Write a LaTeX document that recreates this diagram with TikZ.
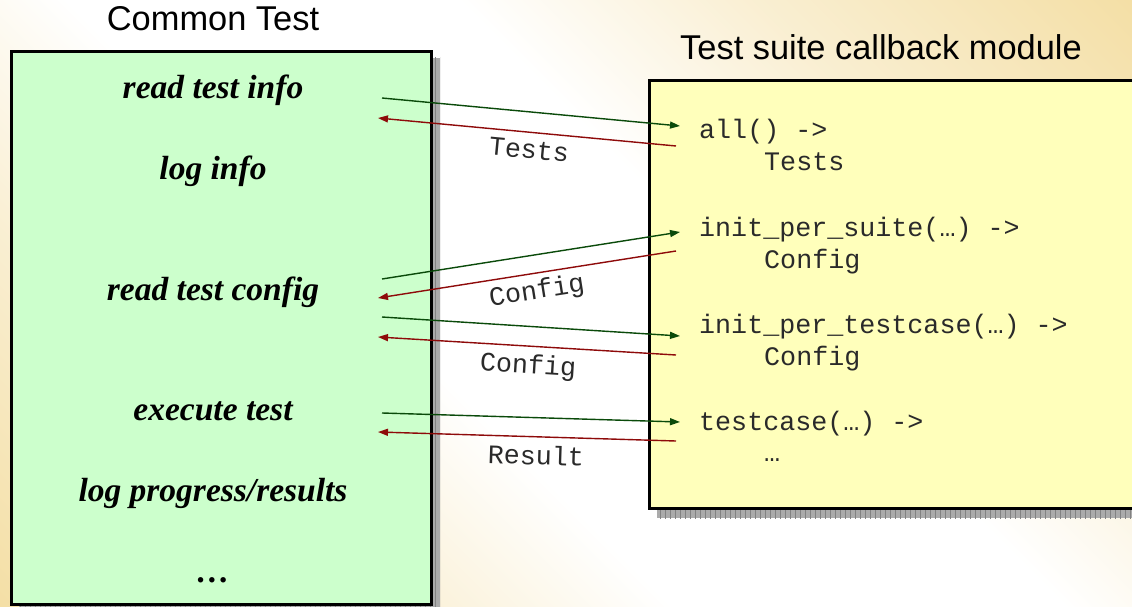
\documentclass[tikz,border=0pt]{standalone}
\usepackage{fontspec}
\setmainfont{Liberation Serif}
\setsansfont{Liberation Sans}
\setmonofont{Liberation Mono}
\usetikzlibrary{arrows.meta}
\definecolor{bgbeige}{HTML}{F4DFA6}
\colorlet{bgmid}{bgbeige!50!white}
\definecolor{ctgreen}{HTML}{CCFFCC}
\definecolor{cbyellow}{HTML}{FFFFBB}
\definecolor{callgreen}{HTML}{0A4A0A}
\definecolor{retred}{HTML}{8E0A0A}
\definecolor{shadowgray}{HTML}{ABABAB}
\definecolor{gridgray}{HTML}{828282}
\definecolor{codegray}{HTML}{2A2A2A}
\pgfdeclarehorizontalshading{bgshade}{100bp}{color(0bp)=(bgbeige); color(14.6bp)=(bgbeige); color(30bp)=(bgmid); color(42bp)=(white); color(58bp)=(white); color(70bp)=(bgmid); color(85.4bp)=(bgbeige); color(100bp)=(bgbeige)}
\tikzset{
  boxstyle/.style={draw=black, line width=2.6pt, inner sep=0pt},
  titletext/.style={font=\sffamily\fontsize{34.4}{40}\selectfont, anchor=base, inner sep=0pt},
  cttext/.style={font=\rmfamily\bfseries\itshape\fontsize{33.5}{38}\selectfont, anchor=base, inner sep=0pt},
  codetext/.style={font=\ttfamily\fontsize{26.7}{30}\selectfont, text=codegray, anchor=base west, inner sep=0pt},
  msgtext/.style={font=\ttfamily\fontsize{26.7}{30}\selectfont, text=codegray, inner sep=0pt},
  callarrow/.style={draw=callgreen, line width=1.4pt, -{Triangle[length=10pt,width=7pt]}},
  retarrow/.style={draw=retred, line width=1.4pt, -{Triangle[length=10pt,width=7pt]}},
}
\begin{document}
\begin{tikzpicture}[x=1pt,y=-1pt]
\useasboundingbox (0,0) rectangle (1132,607);
% background
\shade[shading=bgshade, shading angle=45] (0,0) rectangle (1132,607);

% shadows
\fill[shadowgray] (19,58) rectangle (440,612);
\begin{scope}
  \clip (19,58) rectangle (440,612);
  \draw[gridgray, line width=0.5pt, step=5] (15,55) grid (445,615);
\end{scope}
\fill[shadowgray] (657,88) rectangle (1140,518);
\begin{scope}
  \clip (657,88) rectangle (1140,518);
  \draw[gridgray, line width=0.5pt, step=5] (655,85) grid (1145,520);
\end{scope}

% boxes
\node[boxstyle, fill=ctgreen, minimum width=420pt, minimum height=553pt, anchor=north west] (ct) at (10,50) {};
\node[boxstyle, fill=cbyellow, minimum width=500pt, minimum height=428pt, anchor=north west] (cb) at (648,79) {};

% titles
\node[titletext] (cttitle) at (213,31) {Common Test};
\node[titletext] (cbtitle) at (881,60) {Test suite callback module};

% Common Test steps
\node[cttext] (readinfo) at (213,99) {read test info};
\node[cttext] (loginfo) at (213,179) {log info};
\node[cttext] (readconfig) at (213,300) {read test config};
\node[cttext] (exectest) at (213,420) {execute test};
\node[cttext] (logprog) at (213,501) {log progress/results};
\node[cttext] (ctdots) at (213,582) {…};

% callback module code
\node[codetext] (allfun) at (699,139) {all() ->};
\node[codetext] (allret) at (764,170) {Tests};
\node[codetext] (ipsfun) at (699,236) {init\_per\_suite(…) ->};
\node[codetext] (ipsret) at (764,268) {Config};
\node[codetext] (iptfun) at (699,333) {init\_per\_testcase(…) ->};
\node[codetext] (iptret) at (764,365) {Config};
\node[codetext] (tcfun) at (699,430) {testcase(…) ->};
\node[codetext] (tcret) at (764,461) {…};

% connector end points
\coordinate (c1s) at (382,98);  \coordinate (c1e) at (680,126);
\coordinate (r1s) at (676,146); \coordinate (r1e) at (378,118);
\coordinate (c2s) at (382,279); \coordinate (c2e) at (680,232);
\coordinate (r2s) at (676,251); \coordinate (r2e) at (378,298);
\coordinate (c3s) at (382,317); \coordinate (c3e) at (680,336);
\coordinate (r3s) at (676,355); \coordinate (r3e) at (378,337);
\coordinate (c4s) at (382,413); \coordinate (c4e) at (680,422);
\coordinate (r4s) at (676,441); \coordinate (r4e) at (378,432);

\draw[callarrow] (c1s) -- (c1e);
\draw[retarrow] (r1s) -- (r1e);
\draw[callarrow] (c2s) -- (c2e);
\draw[retarrow] (r2s) -- (r2e);
\draw[callarrow] (c3s) -- (c3e);
\draw[retarrow] (r3s) -- (r3e);
\draw[callarrow] (c4s) -- (c4e);
\draw[retarrow] (r4s) -- (r4e);

% return labels
\node[msgtext, rotate=-5.4] (msgtests) at (529,150) {Tests};
\node[msgtext, rotate=9] (msgcfg1) at (537,292) {Config};
\node[msgtext, rotate=-3.5] (msgcfg2) at (528,367) {Config};
\node[msgtext, rotate=-1.8] (msgres) at (536,455) {Result};
\end{tikzpicture}
\end{document}
